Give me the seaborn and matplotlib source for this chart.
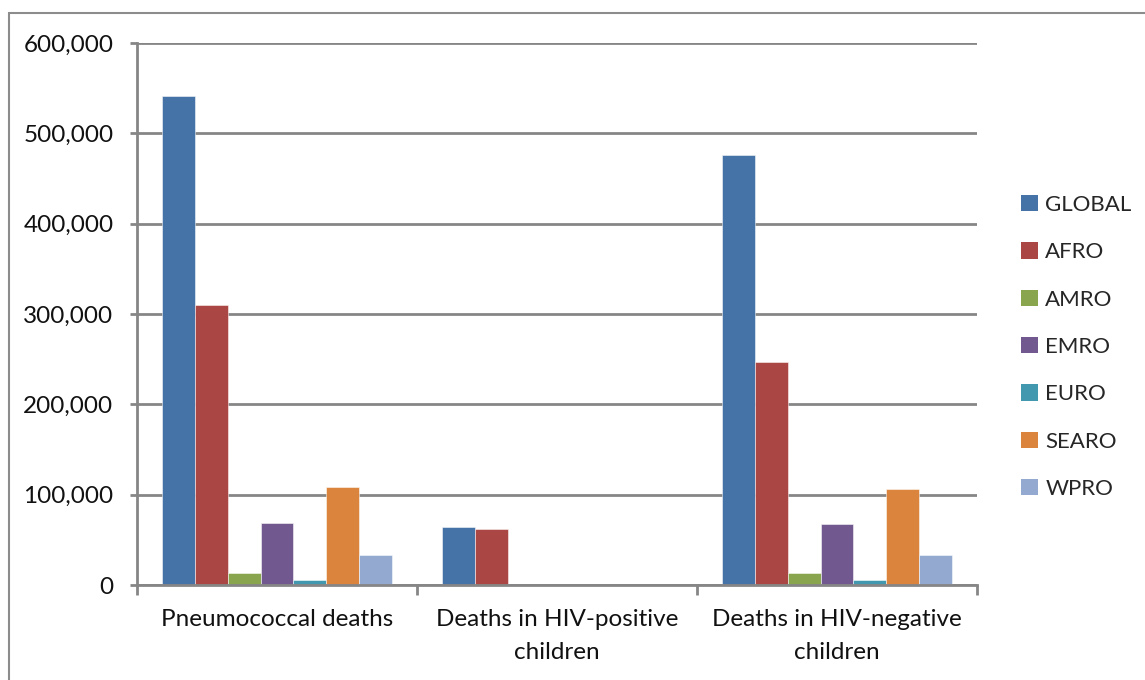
import matplotlib
matplotlib.use("Agg")
import matplotlib.pyplot as plt
from matplotlib.patches import Rectangle, Patch
from matplotlib.ticker import FuncFormatter, FixedLocator
import seaborn as sns
import pandas as pd

categories = ["Pneumococcal deaths",
              "Deaths in HIV-positive\nchildren",
              "Deaths in HIV-negative\nchildren"]
regions = ["GLOBAL", "AFRO", "AMRO", "EMRO", "EURO", "SEARO", "WPRO"]

global_deaths = [541000, 64000, 476000]
afro_deaths = [310000, 62000, 247000]
amro_deaths = [13000, 0, 13000]
emro_deaths = [69000, 0, 68000]
euro_deaths = [6000, 0, 6000]
searo_deaths = [108000, 0, 106000]
wpro_deaths = [33000, 0, 33000]

colors = ["#4572A7", "#AA4643", "#89A54E", "#71588F", "#4198AF", "#DB843D", "#93A9CF"]

series = [global_deaths, afro_deaths, amro_deaths, emro_deaths,
          euro_deaths, searo_deaths, wpro_deaths]
rows = []
for reg, vals in zip(regions, series):
    for cat, v in zip(categories, vals):
        rows.append({"category": cat, "region": reg, "deaths": v})
df = pd.DataFrame(rows)

sns.set_theme(style="white")
plt.rcParams["font.family"] = ["Lato", "DejaVu Sans"]

W, H = 1145, 680
fig = plt.figure(figsize=(W / 100, H / 100), dpi=100)
ax = fig.add_axes([137 / W, (H - 585) / H, 840 / W, 542 / H])

sns.barplot(data=df, x="category", y="deaths", hue="region", order=categories,
            hue_order=regions, palette=colors, width=0.818, saturation=1,
            edgecolor=(1, 1, 1, 0.6), linewidth=0.6, ax=ax, legend=False)

grid_c = "#868686"
ax.set_ylim(0, 600000)
ax.set_xlim(-0.5, 2.5)
ax.set_yticks(range(0, 600001, 100000))
ax.yaxis.set_major_formatter(FuncFormatter(lambda v, p: f"{int(v):,}"))
ax.yaxis.grid(True, color=grid_c, linewidth=2)
ax.set_axisbelow(True)

ax.xaxis.set_major_locator(FixedLocator([-0.5, 0.5, 1.5, 2.5]))
ax.xaxis.set_minor_locator(FixedLocator([0, 1, 2]))
ax.set_xticklabels(["", "", "", ""])
ax.set_xticklabels(categories, minor=True)
ax.tick_params(axis="x", which="major", length=7, width=2, color=grid_c,
               direction="out", bottom=True)
ax.tick_params(axis="x", which="minor", length=0, pad=17, labelsize=17.5,
               labelcolor="#111111")
ax.tick_params(axis="y", length=5, width=2, color=grid_c, direction="out",
               left=True, pad=12, labelsize=17.5, labelcolor="#111111")
for lbl in ax.get_xticklabels(minor=True):
    lbl.set_linespacing(1.75)

for side in ["top", "right"]:
    ax.spines[side].set_visible(False)
ax.spines["left"].set_color(grid_c)
ax.spines["left"].set_linewidth(2)
ax.spines["bottom"].set_color(grid_c)
ax.spines["bottom"].set_linewidth(2)
ax.set_xlabel("")
ax.set_ylabel("")

handles = [Patch(facecolor=c, edgecolor="none") for c in colors]
fig.legend(handles, regions, loc="upper left",
           bbox_to_anchor=(1012 / W, 1 - 186 / H), frameon=False,
           fontsize=16, handlelength=0.75, handleheight=0.75,
           handletextpad=0.35, labelspacing=1.23, borderaxespad=0)

fig.patches.append(Rectangle((9 / W, -0.1), 2, 1.1 - 13 / H,
                             transform=fig.transFigure, fill=False,
                             edgecolor="#8c8c8c", linewidth=1.5))

fig.savefig("out.png", dpi=100)
